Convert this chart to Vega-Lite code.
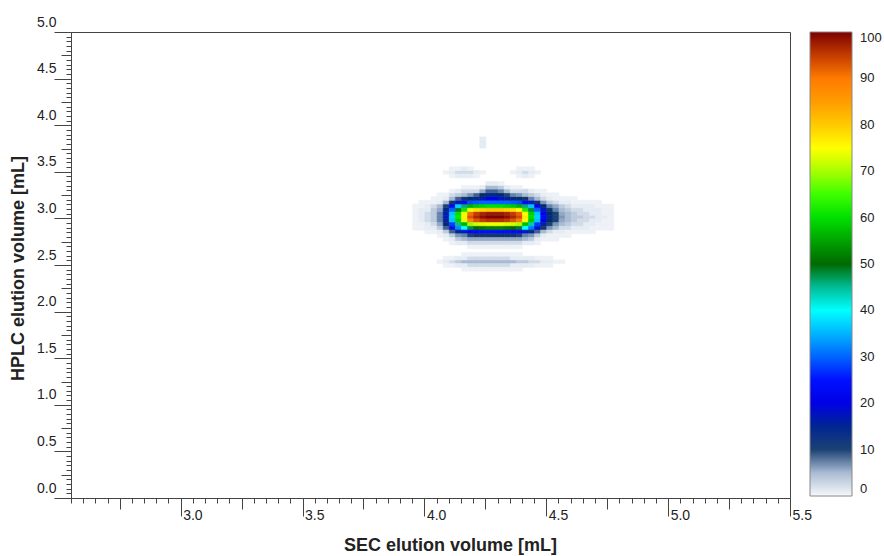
{
"$schema":"https://vega.github.io/schema/vega-lite/v6.json",
"autosize":{"type":"none"},
"width":719,"height":466,
"padding":{"left":71,"top":32,"right":94,"bottom":58},
"background":"white",
"config":{"view":{"stroke":"#444","strokeWidth":1},"font":"Liberation Sans"},
"data":{"values":[
{"x":3.95,"y":3,"v":1},{"x":3.975,"y":3,"v":2},{"x":4,"y":3,"v":3},{"x":4.025,"y":3,"v":4},{"x":4.05,"y":3,"v":8},{"x":4.075,"y":3,"v":17},{"x":4.1,"y":3,"v":37},{"x":4.125,"y":3,"v":61},{"x":4.15,"y":3,"v":76},{"x":4.175,"y":3,"v":93},{"x":4.2,"y":3,"v":97},{"x":4.225,"y":3,"v":99},{"x":4.25,"y":3,"v":100},{"x":4.275,"y":3,"v":100},{"x":4.3,"y":3,"v":100},{"x":4.325,"y":3,"v":99},{"x":4.35,"y":3,"v":97},{"x":4.375,"y":3,"v":94},{"x":4.4,"y":3,"v":77},{"x":4.425,"y":3,"v":60},{"x":4.45,"y":3,"v":37},{"x":4.475,"y":3,"v":22},{"x":4.5,"y":3,"v":14},{"x":4.525,"y":3,"v":10},{"x":4.55,"y":3,"v":7},{"x":4.575,"y":3,"v":5},{"x":4.6,"y":3,"v":4},{"x":4.625,"y":3,"v":4},{"x":4.65,"y":3,"v":3},{"x":4.675,"y":3,"v":3},{"x":4.7,"y":3,"v":2},{"x":4.725,"y":3,"v":2},{"x":4.75,"y":3,"v":1},
{"x":3.95,"y":3.04,"v":1},{"x":3.975,"y":3.04,"v":2},{"x":4,"y":3.04,"v":3},{"x":4.025,"y":3.04,"v":4},{"x":4.05,"y":3.04,"v":8},{"x":4.075,"y":3.04,"v":17},{"x":4.1,"y":3.04,"v":36},{"x":4.125,"y":3.04,"v":60},{"x":4.15,"y":3.04,"v":74},{"x":4.175,"y":3.04,"v":91},{"x":4.2,"y":3.04,"v":95},{"x":4.225,"y":3.04,"v":97},{"x":4.25,"y":3.04,"v":98},{"x":4.275,"y":3.04,"v":98},{"x":4.3,"y":3.04,"v":98},{"x":4.325,"y":3.04,"v":97},{"x":4.35,"y":3.04,"v":95},{"x":4.375,"y":3.04,"v":92},{"x":4.4,"y":3.04,"v":75},{"x":4.425,"y":3.04,"v":59},{"x":4.45,"y":3.04,"v":36},{"x":4.475,"y":3.04,"v":22},{"x":4.5,"y":3.04,"v":13},{"x":4.525,"y":3.04,"v":10},{"x":4.55,"y":3.04,"v":6},{"x":4.575,"y":3.04,"v":5},{"x":4.6,"y":3.04,"v":4},{"x":4.625,"y":3.04,"v":3},{"x":4.65,"y":3.04,"v":3},{"x":4.675,"y":3.04,"v":2},{"x":4.7,"y":3.04,"v":2},{"x":4.725,"y":3.04,"v":1},{"x":4.75,"y":3.04,"v":1},
{"x":3.95,"y":2.96,"v":1},{"x":3.975,"y":2.96,"v":2},{"x":4,"y":2.96,"v":3},{"x":4.025,"y":2.96,"v":4},{"x":4.05,"y":2.96,"v":8},{"x":4.075,"y":2.96,"v":16},{"x":4.1,"y":2.96,"v":36},{"x":4.125,"y":2.96,"v":59},{"x":4.15,"y":2.96,"v":73},{"x":4.175,"y":2.96,"v":89},{"x":4.2,"y":2.96,"v":93},{"x":4.225,"y":2.96,"v":95},{"x":4.25,"y":2.96,"v":96},{"x":4.275,"y":2.96,"v":96},{"x":4.3,"y":2.96,"v":96},{"x":4.325,"y":2.96,"v":95},{"x":4.35,"y":2.96,"v":93},{"x":4.375,"y":2.96,"v":90},{"x":4.4,"y":2.96,"v":74},{"x":4.425,"y":2.96,"v":58},{"x":4.45,"y":2.96,"v":36},{"x":4.475,"y":2.96,"v":21},{"x":4.5,"y":2.96,"v":13},{"x":4.525,"y":2.96,"v":10},{"x":4.55,"y":2.96,"v":6},{"x":4.575,"y":2.96,"v":5},{"x":4.6,"y":2.96,"v":4},{"x":4.625,"y":2.96,"v":3},{"x":4.65,"y":2.96,"v":3},{"x":4.675,"y":2.96,"v":2},{"x":4.7,"y":2.96,"v":2},{"x":4.725,"y":2.96,"v":1},{"x":4.75,"y":2.96,"v":1},
{"x":3.95,"y":3.08,"v":1},{"x":3.975,"y":3.08,"v":2},{"x":4,"y":3.08,"v":2},{"x":4.025,"y":3.08,"v":4},{"x":4.05,"y":3.08,"v":6},{"x":4.075,"y":3.08,"v":14},{"x":4.1,"y":3.08,"v":30},{"x":4.125,"y":3.08,"v":49},{"x":4.15,"y":3.08,"v":61},{"x":4.175,"y":3.08,"v":74},{"x":4.2,"y":3.08,"v":78},{"x":4.225,"y":3.08,"v":79},{"x":4.25,"y":3.08,"v":80},{"x":4.275,"y":3.08,"v":80},{"x":4.3,"y":3.08,"v":80},{"x":4.325,"y":3.08,"v":79},{"x":4.35,"y":3.08,"v":78},{"x":4.375,"y":3.08,"v":75},{"x":4.4,"y":3.08,"v":62},{"x":4.425,"y":3.08,"v":48},{"x":4.45,"y":3.08,"v":30},{"x":4.475,"y":3.08,"v":18},{"x":4.5,"y":3.08,"v":11},{"x":4.525,"y":3.08,"v":8},{"x":4.55,"y":3.08,"v":5},{"x":4.575,"y":3.08,"v":4},{"x":4.6,"y":3.08,"v":3},{"x":4.625,"y":3.08,"v":3},{"x":4.65,"y":3.08,"v":2},{"x":4.675,"y":3.08,"v":2},{"x":4.7,"y":3.08,"v":2},{"x":4.725,"y":3.08,"v":1},{"x":4.75,"y":3.08,"v":1},
{"x":3.95,"y":2.92,"v":1},{"x":3.975,"y":2.92,"v":1},{"x":4,"y":2.92,"v":2},{"x":4.025,"y":2.92,"v":3},{"x":4.05,"y":2.92,"v":6},{"x":4.075,"y":2.92,"v":13},{"x":4.1,"y":2.92,"v":27},{"x":4.125,"y":2.92,"v":45},{"x":4.15,"y":2.92,"v":56},{"x":4.175,"y":2.92,"v":69},{"x":4.2,"y":2.92,"v":72},{"x":4.225,"y":2.92,"v":73},{"x":4.25,"y":2.92,"v":74},{"x":4.275,"y":2.92,"v":74},{"x":4.3,"y":2.92,"v":74},{"x":4.325,"y":2.92,"v":73},{"x":4.35,"y":2.92,"v":72},{"x":4.375,"y":2.92,"v":70},{"x":4.4,"y":2.92,"v":57},{"x":4.425,"y":2.92,"v":44},{"x":4.45,"y":2.92,"v":27},{"x":4.475,"y":2.92,"v":16},{"x":4.5,"y":2.92,"v":10},{"x":4.525,"y":2.92,"v":7},{"x":4.55,"y":2.92,"v":5},{"x":4.575,"y":2.92,"v":4},{"x":4.6,"y":2.92,"v":3},{"x":4.625,"y":2.92,"v":3},{"x":4.65,"y":2.92,"v":2},{"x":4.675,"y":2.92,"v":2},{"x":4.7,"y":2.92,"v":1},{"x":4.725,"y":2.92,"v":1},{"x":4.75,"y":2.92,"v":1},
{"x":3.95,"y":3.12,"v":1},{"x":3.975,"y":3.12,"v":1},{"x":4,"y":3.12,"v":2},{"x":4.025,"y":3.12,"v":3},{"x":4.05,"y":3.12,"v":5},{"x":4.075,"y":3.12,"v":10},{"x":4.1,"y":3.12,"v":22},{"x":4.125,"y":3.12,"v":37},{"x":4.15,"y":3.12,"v":46},{"x":4.175,"y":3.12,"v":56},{"x":4.2,"y":3.12,"v":58},{"x":4.225,"y":3.12,"v":59},{"x":4.25,"y":3.12,"v":60},{"x":4.275,"y":3.12,"v":60},{"x":4.3,"y":3.12,"v":60},{"x":4.325,"y":3.12,"v":59},{"x":4.35,"y":3.12,"v":58},{"x":4.375,"y":3.12,"v":56},{"x":4.4,"y":3.12,"v":46},{"x":4.425,"y":3.12,"v":36},{"x":4.45,"y":3.12,"v":22},{"x":4.475,"y":3.12,"v":13},{"x":4.5,"y":3.12,"v":8},{"x":4.525,"y":3.12,"v":6},{"x":4.55,"y":3.12,"v":4},{"x":4.575,"y":3.12,"v":3},{"x":4.6,"y":3.12,"v":2},{"x":4.625,"y":3.12,"v":2},{"x":4.65,"y":3.12,"v":2},{"x":4.675,"y":3.12,"v":2},{"x":4.7,"y":3.12,"v":1},{"x":4.725,"y":3.12,"v":1},{"x":4.75,"y":3.12,"v":1},
{"x":3.95,"y":2.88,"v":1},{"x":3.975,"y":2.88,"v":1},{"x":4,"y":2.88,"v":2},{"x":4.025,"y":2.88,"v":2},{"x":4.05,"y":2.88,"v":4},{"x":4.075,"y":2.88,"v":9},{"x":4.1,"y":2.88,"v":19},{"x":4.125,"y":2.88,"v":32},{"x":4.15,"y":2.88,"v":40},{"x":4.175,"y":2.88,"v":48},{"x":4.2,"y":2.88,"v":50},{"x":4.225,"y":2.88,"v":51},{"x":4.25,"y":2.88,"v":52},{"x":4.275,"y":2.88,"v":52},{"x":4.3,"y":2.88,"v":52},{"x":4.325,"y":2.88,"v":51},{"x":4.35,"y":2.88,"v":50},{"x":4.375,"y":2.88,"v":49},{"x":4.4,"y":2.88,"v":40},{"x":4.425,"y":2.88,"v":31},{"x":4.45,"y":2.88,"v":19},{"x":4.475,"y":2.88,"v":11},{"x":4.5,"y":2.88,"v":7},{"x":4.525,"y":2.88,"v":5},{"x":4.55,"y":2.88,"v":3},{"x":4.575,"y":2.88,"v":3},{"x":4.6,"y":2.88,"v":2},{"x":4.625,"y":2.88,"v":2},{"x":4.65,"y":2.88,"v":2},{"x":4.675,"y":2.88,"v":1},{"x":4.7,"y":2.88,"v":1},{"x":4.725,"y":2.88,"v":1},{"x":4.75,"y":2.88,"v":1},
{"x":3.975,"y":3.16,"v":1},{"x":4,"y":3.16,"v":1},{"x":4.025,"y":3.16,"v":1},{"x":4.05,"y":3.16,"v":2},{"x":4.075,"y":3.16,"v":5},{"x":4.1,"y":3.16,"v":11},{"x":4.125,"y":3.16,"v":18},{"x":4.15,"y":3.16,"v":23},{"x":4.175,"y":3.16,"v":28},{"x":4.2,"y":3.16,"v":29},{"x":4.225,"y":3.16,"v":30},{"x":4.25,"y":3.16,"v":30},{"x":4.275,"y":3.16,"v":30},{"x":4.3,"y":3.16,"v":30},{"x":4.325,"y":3.16,"v":30},{"x":4.35,"y":3.16,"v":29},{"x":4.375,"y":3.16,"v":28},{"x":4.4,"y":3.16,"v":23},{"x":4.425,"y":3.16,"v":18},{"x":4.45,"y":3.16,"v":11},{"x":4.475,"y":3.16,"v":7},{"x":4.5,"y":3.16,"v":4},{"x":4.525,"y":3.16,"v":3},{"x":4.55,"y":3.16,"v":2},{"x":4.575,"y":3.16,"v":2},{"x":4.6,"y":3.16,"v":1},{"x":4.625,"y":3.16,"v":1},{"x":4.65,"y":3.16,"v":1},{"x":4.675,"y":3.16,"v":1},{"x":4.7,"y":3.16,"v":1},
{"x":4,"y":2.84,"v":1},{"x":4.025,"y":2.84,"v":1},{"x":4.05,"y":2.84,"v":2},{"x":4.075,"y":2.84,"v":4},{"x":4.1,"y":2.84,"v":9},{"x":4.125,"y":2.84,"v":15},{"x":4.15,"y":2.84,"v":18},{"x":4.175,"y":2.84,"v":22},{"x":4.2,"y":2.84,"v":23},{"x":4.225,"y":2.84,"v":24},{"x":4.25,"y":2.84,"v":24},{"x":4.275,"y":2.84,"v":24},{"x":4.3,"y":2.84,"v":24},{"x":4.325,"y":2.84,"v":24},{"x":4.35,"y":2.84,"v":23},{"x":4.375,"y":2.84,"v":23},{"x":4.4,"y":2.84,"v":18},{"x":4.425,"y":2.84,"v":14},{"x":4.45,"y":2.84,"v":9},{"x":4.475,"y":2.84,"v":5},{"x":4.5,"y":2.84,"v":3},{"x":4.525,"y":2.84,"v":2},{"x":4.55,"y":2.84,"v":2},{"x":4.575,"y":2.84,"v":1},{"x":4.6,"y":2.84,"v":1},{"x":4.625,"y":2.84,"v":1},{"x":4.65,"y":2.84,"v":1},{"x":4.675,"y":2.84,"v":1},
{"x":4.025,"y":3.2,"v":1},{"x":4.05,"y":3.2,"v":1},{"x":4.075,"y":3.2,"v":2},{"x":4.1,"y":3.2,"v":5},{"x":4.125,"y":3.2,"v":9},{"x":4.15,"y":3.2,"v":11},{"x":4.175,"y":3.2,"v":13},{"x":4.2,"y":3.2,"v":14},{"x":4.225,"y":3.2,"v":17},{"x":4.25,"y":3.2,"v":20},{"x":4.275,"y":3.2,"v":20},{"x":4.3,"y":3.2,"v":18},{"x":4.325,"y":3.2,"v":16},{"x":4.35,"y":3.2,"v":14},{"x":4.375,"y":3.2,"v":13},{"x":4.4,"y":3.2,"v":11},{"x":4.425,"y":3.2,"v":8},{"x":4.45,"y":3.2,"v":5},{"x":4.475,"y":3.2,"v":3},{"x":4.5,"y":3.2,"v":2},{"x":4.525,"y":3.2,"v":1},{"x":4.55,"y":3.2,"v":1},{"x":4.575,"y":3.2,"v":1},{"x":4.6,"y":3.2,"v":1},
{"x":4.05,"y":2.8,"v":1},{"x":4.075,"y":2.8,"v":2},{"x":4.1,"y":2.8,"v":4},{"x":4.125,"y":2.8,"v":7},{"x":4.15,"y":2.8,"v":8},{"x":4.175,"y":2.8,"v":10},{"x":4.2,"y":2.8,"v":11},{"x":4.225,"y":2.8,"v":11},{"x":4.25,"y":2.8,"v":11},{"x":4.275,"y":2.8,"v":11},{"x":4.3,"y":2.8,"v":11},{"x":4.325,"y":2.8,"v":11},{"x":4.35,"y":2.8,"v":11},{"x":4.375,"y":2.8,"v":10},{"x":4.4,"y":2.8,"v":8},{"x":4.425,"y":2.8,"v":7},{"x":4.45,"y":2.8,"v":4},{"x":4.475,"y":2.8,"v":2},{"x":4.5,"y":2.8,"v":1},{"x":4.525,"y":2.8,"v":1},{"x":4.55,"y":2.8,"v":1},{"x":4.575,"y":2.8,"v":1},
{"x":4.05,"y":3.24,"v":1},{"x":4.075,"y":3.24,"v":1},{"x":4.1,"y":3.24,"v":3},{"x":4.125,"y":3.24,"v":4},{"x":4.15,"y":3.24,"v":5},{"x":4.175,"y":3.24,"v":7},{"x":4.2,"y":3.24,"v":9},{"x":4.225,"y":3.24,"v":12},{"x":4.25,"y":3.24,"v":14},{"x":4.275,"y":3.24,"v":14},{"x":4.3,"y":3.24,"v":13},{"x":4.325,"y":3.24,"v":10},{"x":4.35,"y":3.24,"v":8},{"x":4.375,"y":3.24,"v":7},{"x":4.4,"y":3.24,"v":5},{"x":4.425,"y":3.24,"v":4},{"x":4.45,"y":3.24,"v":3},{"x":4.475,"y":3.24,"v":2},{"x":4.5,"y":3.24,"v":1},{"x":4.525,"y":3.24,"v":1},
{"x":4.075,"y":2.76,"v":1},{"x":4.1,"y":2.76,"v":2},{"x":4.125,"y":2.76,"v":4},{"x":4.15,"y":2.76,"v":5},{"x":4.175,"y":2.76,"v":6},{"x":4.2,"y":2.76,"v":6},{"x":4.225,"y":2.76,"v":6},{"x":4.25,"y":2.76,"v":6},{"x":4.275,"y":2.76,"v":6},{"x":4.3,"y":2.76,"v":6},{"x":4.325,"y":2.76,"v":6},{"x":4.35,"y":2.76,"v":6},{"x":4.375,"y":2.76,"v":6},{"x":4.4,"y":2.76,"v":5},{"x":4.425,"y":2.76,"v":4},{"x":4.45,"y":2.76,"v":2},{"x":4.475,"y":2.76,"v":1},{"x":4.5,"y":2.76,"v":1},{"x":4.525,"y":2.76,"v":1},
{"x":4.1,"y":3.28,"v":1},{"x":4.125,"y":3.28,"v":2},{"x":4.15,"y":3.28,"v":3},{"x":4.175,"y":3.28,"v":3},{"x":4.2,"y":3.28,"v":3},{"x":4.225,"y":3.28,"v":6},{"x":4.25,"y":3.28,"v":9},{"x":4.275,"y":3.28,"v":9},{"x":4.3,"y":3.28,"v":8},{"x":4.325,"y":3.28,"v":5},{"x":4.35,"y":3.28,"v":3},{"x":4.375,"y":3.28,"v":3},{"x":4.4,"y":3.28,"v":3},{"x":4.425,"y":3.28,"v":2},{"x":4.45,"y":3.28,"v":1},{"x":4.475,"y":3.28,"v":1},
{"x":4.1,"y":2.72,"v":1},{"x":4.125,"y":2.72,"v":2},{"x":4.15,"y":2.72,"v":2},{"x":4.175,"y":2.72,"v":3},{"x":4.2,"y":2.72,"v":3},{"x":4.225,"y":2.72,"v":3},{"x":4.25,"y":2.72,"v":3},{"x":4.275,"y":2.72,"v":3},{"x":4.3,"y":2.72,"v":3},{"x":4.325,"y":2.72,"v":3},{"x":4.35,"y":2.72,"v":3},{"x":4.375,"y":2.72,"v":3},{"x":4.4,"y":2.72,"v":2},{"x":4.425,"y":2.72,"v":2},{"x":4.45,"y":2.72,"v":1},
{"x":4.15,"y":3.32,"v":1},{"x":4.175,"y":3.32,"v":1},{"x":4.2,"y":3.32,"v":1},{"x":4.225,"y":3.32,"v":2},{"x":4.25,"y":3.32,"v":5},{"x":4.275,"y":3.32,"v":5},{"x":4.3,"y":3.32,"v":4},{"x":4.325,"y":3.32,"v":2},{"x":4.35,"y":3.32,"v":1},{"x":4.375,"y":3.32,"v":1},
{"x":4.175,"y":2.68,"v":1},{"x":4.2,"y":2.68,"v":1},{"x":4.225,"y":2.68,"v":1},{"x":4.25,"y":2.68,"v":1},{"x":4.275,"y":2.68,"v":1},{"x":4.3,"y":2.68,"v":1},{"x":4.325,"y":2.68,"v":1},{"x":4.35,"y":2.68,"v":1},{"x":4.375,"y":2.68,"v":1},
{"x":4.25,"y":3.36,"v":2},{"x":4.275,"y":3.36,"v":2},{"x":4.3,"y":3.36,"v":1},
{"x":4.05,"y":2.52,"v":1},{"x":4.075,"y":2.52,"v":2},{"x":4.1,"y":2.52,"v":3},{"x":4.125,"y":2.52,"v":4},{"x":4.15,"y":2.52,"v":5},{"x":4.175,"y":2.52,"v":5},{"x":4.2,"y":2.52,"v":5},{"x":4.225,"y":2.52,"v":5},{"x":4.25,"y":2.52,"v":5},{"x":4.275,"y":2.52,"v":5},{"x":4.3,"y":2.52,"v":5},{"x":4.325,"y":2.52,"v":5},{"x":4.35,"y":2.52,"v":5},{"x":4.375,"y":2.52,"v":4},{"x":4.4,"y":2.52,"v":4},{"x":4.425,"y":2.52,"v":3},{"x":4.45,"y":2.52,"v":3},{"x":4.475,"y":2.52,"v":2},{"x":4.5,"y":2.52,"v":2},{"x":4.525,"y":2.52,"v":1},{"x":4.55,"y":2.52,"v":1},
{"x":4.075,"y":2.56,"v":1},{"x":4.1,"y":2.56,"v":1},{"x":4.125,"y":2.56,"v":2},{"x":4.15,"y":2.56,"v":2},{"x":4.175,"y":2.56,"v":3},{"x":4.2,"y":2.56,"v":3},{"x":4.225,"y":2.56,"v":3},{"x":4.25,"y":2.56,"v":3},{"x":4.275,"y":2.56,"v":3},{"x":4.3,"y":2.56,"v":3},{"x":4.325,"y":2.56,"v":3},{"x":4.35,"y":2.56,"v":2},{"x":4.375,"y":2.56,"v":2},{"x":4.4,"y":2.56,"v":2},{"x":4.425,"y":2.56,"v":2},{"x":4.45,"y":2.56,"v":1},{"x":4.475,"y":2.56,"v":1},{"x":4.5,"y":2.56,"v":1},
{"x":4.075,"y":2.48,"v":1},{"x":4.1,"y":2.48,"v":1},{"x":4.125,"y":2.48,"v":2},{"x":4.15,"y":2.48,"v":2},{"x":4.175,"y":2.48,"v":3},{"x":4.2,"y":2.48,"v":3},{"x":4.225,"y":2.48,"v":3},{"x":4.25,"y":2.48,"v":3},{"x":4.275,"y":2.48,"v":3},{"x":4.3,"y":2.48,"v":3},{"x":4.325,"y":2.48,"v":3},{"x":4.35,"y":2.48,"v":2},{"x":4.375,"y":2.48,"v":2},{"x":4.4,"y":2.48,"v":2},{"x":4.425,"y":2.48,"v":2},{"x":4.45,"y":2.48,"v":1},{"x":4.475,"y":2.48,"v":1},{"x":4.5,"y":2.48,"v":1},
{"x":4.15,"y":2.6,"v":1},{"x":4.175,"y":2.6,"v":1},{"x":4.2,"y":2.6,"v":1},{"x":4.225,"y":2.6,"v":1},{"x":4.25,"y":2.6,"v":1},{"x":4.275,"y":2.6,"v":1},{"x":4.3,"y":2.6,"v":1},{"x":4.325,"y":2.6,"v":1},{"x":4.35,"y":2.6,"v":1},{"x":4.375,"y":2.6,"v":1},
{"x":4.15,"y":2.44,"v":1},{"x":4.175,"y":2.44,"v":1},{"x":4.2,"y":2.44,"v":1},{"x":4.225,"y":2.44,"v":1},{"x":4.25,"y":2.44,"v":1},{"x":4.275,"y":2.44,"v":1},{"x":4.3,"y":2.44,"v":1},{"x":4.325,"y":2.44,"v":1},{"x":4.35,"y":2.44,"v":1},{"x":4.375,"y":2.44,"v":1},
{"x":4.075,"y":3.48,"v":1},{"x":4.1,"y":3.48,"v":2},{"x":4.125,"y":3.48,"v":3},{"x":4.15,"y":3.48,"v":3},{"x":4.175,"y":3.48,"v":3},{"x":4.2,"y":3.48,"v":2},{"x":4.225,"y":3.48,"v":1},
{"x":4.35,"y":3.48,"v":1},{"x":4.375,"y":3.48,"v":2},{"x":4.4,"y":3.48,"v":3},{"x":4.425,"y":3.48,"v":2},{"x":4.45,"y":3.48,"v":1},
{"x":4.1,"y":3.44,"v":1},{"x":4.125,"y":3.44,"v":2},{"x":4.15,"y":3.44,"v":2},{"x":4.175,"y":3.44,"v":2},{"x":4.2,"y":3.44,"v":1},
{"x":4.375,"y":3.44,"v":1},{"x":4.4,"y":3.44,"v":2},{"x":4.425,"y":3.44,"v":1},
{"x":4.1,"y":3.52,"v":1},{"x":4.125,"y":3.52,"v":1},{"x":4.15,"y":3.52,"v":2},{"x":4.175,"y":3.52,"v":1},
{"x":4.375,"y":3.52,"v":1},{"x":4.4,"y":3.52,"v":1},{"x":4.425,"y":3.52,"v":1},
{"x":4.225,"y":3.76,"v":2},{"x":4.225,"y":3.8,"v":2},{"x":4.225,"y":3.84,"v":2}
]},
"mark":{"type":"rect","clip":true,"stroke":{"expr":"scale('color', datum.v)"},"strokeWidth":0.6},
"encoding":{
"x":{"field":"x","type":"quantitative","bin":{"binned":true,"step":0.025},
 "scale":{"domain":[2.55,5.5],"nice":false,"zero":false},
 "axis":{"title":"SEC elution volume [mL]","grid":false,
  "values":[2.55,2.6,2.65,2.7,2.75,2.8,2.85,2.9,2.95,3,3.05,3.1,3.15,3.2,3.25,3.3,3.35,3.4,3.45,3.5,3.55,3.6,3.65,3.7,3.75,3.8,3.85,3.9,3.95,4,4.05,4.1,4.15,4.2,4.25,4.3,4.35,4.4,4.45,4.5,4.55,4.6,4.65,4.7,4.75,4.8,4.85,4.9,4.95,5,5.05,5.1,5.15,5.2,5.25,5.3,5.35,5.4,5.45,5.5],
  "labelExpr":"abs(datum.value*2-round(datum.value*2))<0.001 ? format(datum.value,'.1f') : ''",
  "tickSize":{"condition":[{"test":"abs(datum.value*2-round(datum.value*2))<0.001","value":18},{"test":"abs(datum.value*4-round(datum.value*4))<0.001","value":11}],"value":5},
  "labelAlign":"left","labelBaseline":"alphabetic","labelOffset":2,"labelPadding":3,"labelFlush":false,"labelOverlap":false,"labelBound":false,
  "domainColor":"#444","tickColor":"#444","labelColor":"#222","labelFont":"Liberation Sans","labelFontSize":14,
  "titleFont":"Liberation Sans","titleFontSize":18,"titleFontWeight":"bold","titleColor":"#222","titleX":379,"titleY":47,"titleAlign":"center","titleBaseline":"middle"}},
"y":{"field":"y","type":"quantitative","bin":{"binned":true,"step":0.04},
 "scale":{"domain":[0,5],"nice":false,"zero":false},
 "axis":{"title":"HPLC elution volume [mL]","grid":false,
  "values":[0,0.05,0.1,0.15,0.2,0.25,0.3,0.35,0.4,0.45,0.5,0.55,0.6,0.65,0.7,0.75,0.8,0.85,0.9,0.95,1,1.05,1.1,1.15,1.2,1.25,1.3,1.35,1.4,1.45,1.5,1.55,1.6,1.65,1.7,1.75,1.8,1.85,1.9,1.95,2,2.05,2.1,2.15,2.2,2.25,2.3,2.35,2.4,2.45,2.5,2.55,2.6,2.65,2.7,2.75,2.8,2.85,2.9,2.95,3,3.05,3.1,3.15,3.2,3.25,3.3,3.35,3.4,3.45,3.5,3.55,3.6,3.65,3.7,3.75,3.8,3.85,3.9,3.95,4,4.05,4.1,4.15,4.2,4.25,4.3,4.35,4.4,4.45,4.5,4.55,4.6,4.65,4.7,4.75,4.8,4.85,4.9,4.95,5],
  "labelExpr":"abs(datum.value*2-round(datum.value*2))<0.001 ? format(datum.value,'.1f') : ''",
  "tickSize":{"condition":[{"test":"abs(datum.value*2-round(datum.value*2))<0.001","value":17},{"test":"abs(datum.value*4-round(datum.value*4))<0.001","value":10}],"value":5},
  "labelAlign":"right","labelBaseline":"alphabetic","labelOffset":-6,"labelPadding":-2,"labelFlush":false,"labelOverlap":false,"labelBound":false,
  "domainColor":"#444","tickColor":"#444","labelColor":"#222","labelFont":"Liberation Sans","labelFontSize":14,
  "titleFont":"Liberation Sans","titleFontSize":18,"titleFontWeight":"bold","titleColor":"#222","titleX":-53,"titleY":236,"titleAlign":"center","titleBaseline":"middle","titleAngle":-90}},
"color":{"field":"v","type":"quantitative",
 "scale":{"type":"linear","domain":[0,2,5,8,10,12,16,20,25,30,35,40,45,50,55,60,65,70,75,80,85,90,95,100],
  "range":["#f6f8fb","#e6ecf3","#a9bbd2","#6584ad","#1c4274","#062c62","#0a1fa0","#0000e6","#0010ff","#0064ff","#00b4ff","#00ffff","#00bd96","#006a00","#00a400","#00e000","#3cff00","#a8ff00","#ffff00","#ffca00","#ff9c00","#ff7a00","#c43c00","#7c0000"]},
 "legend":{"type":"gradient","orient":"none","legendX":739,"legendY":0,"direction":"vertical","title":null,"gradientLength":464,"gradientThickness":42,"gradientStrokeColor":"#888","gradientStrokeWidth":1,"values":[0,10,20,30,40,50,60,70,80,90,100],"labelFont":"Liberation Sans","labelFontSize":13,"labelColor":"#222","labelOffset":8,"padding":0,"offset":0}}
}
}
